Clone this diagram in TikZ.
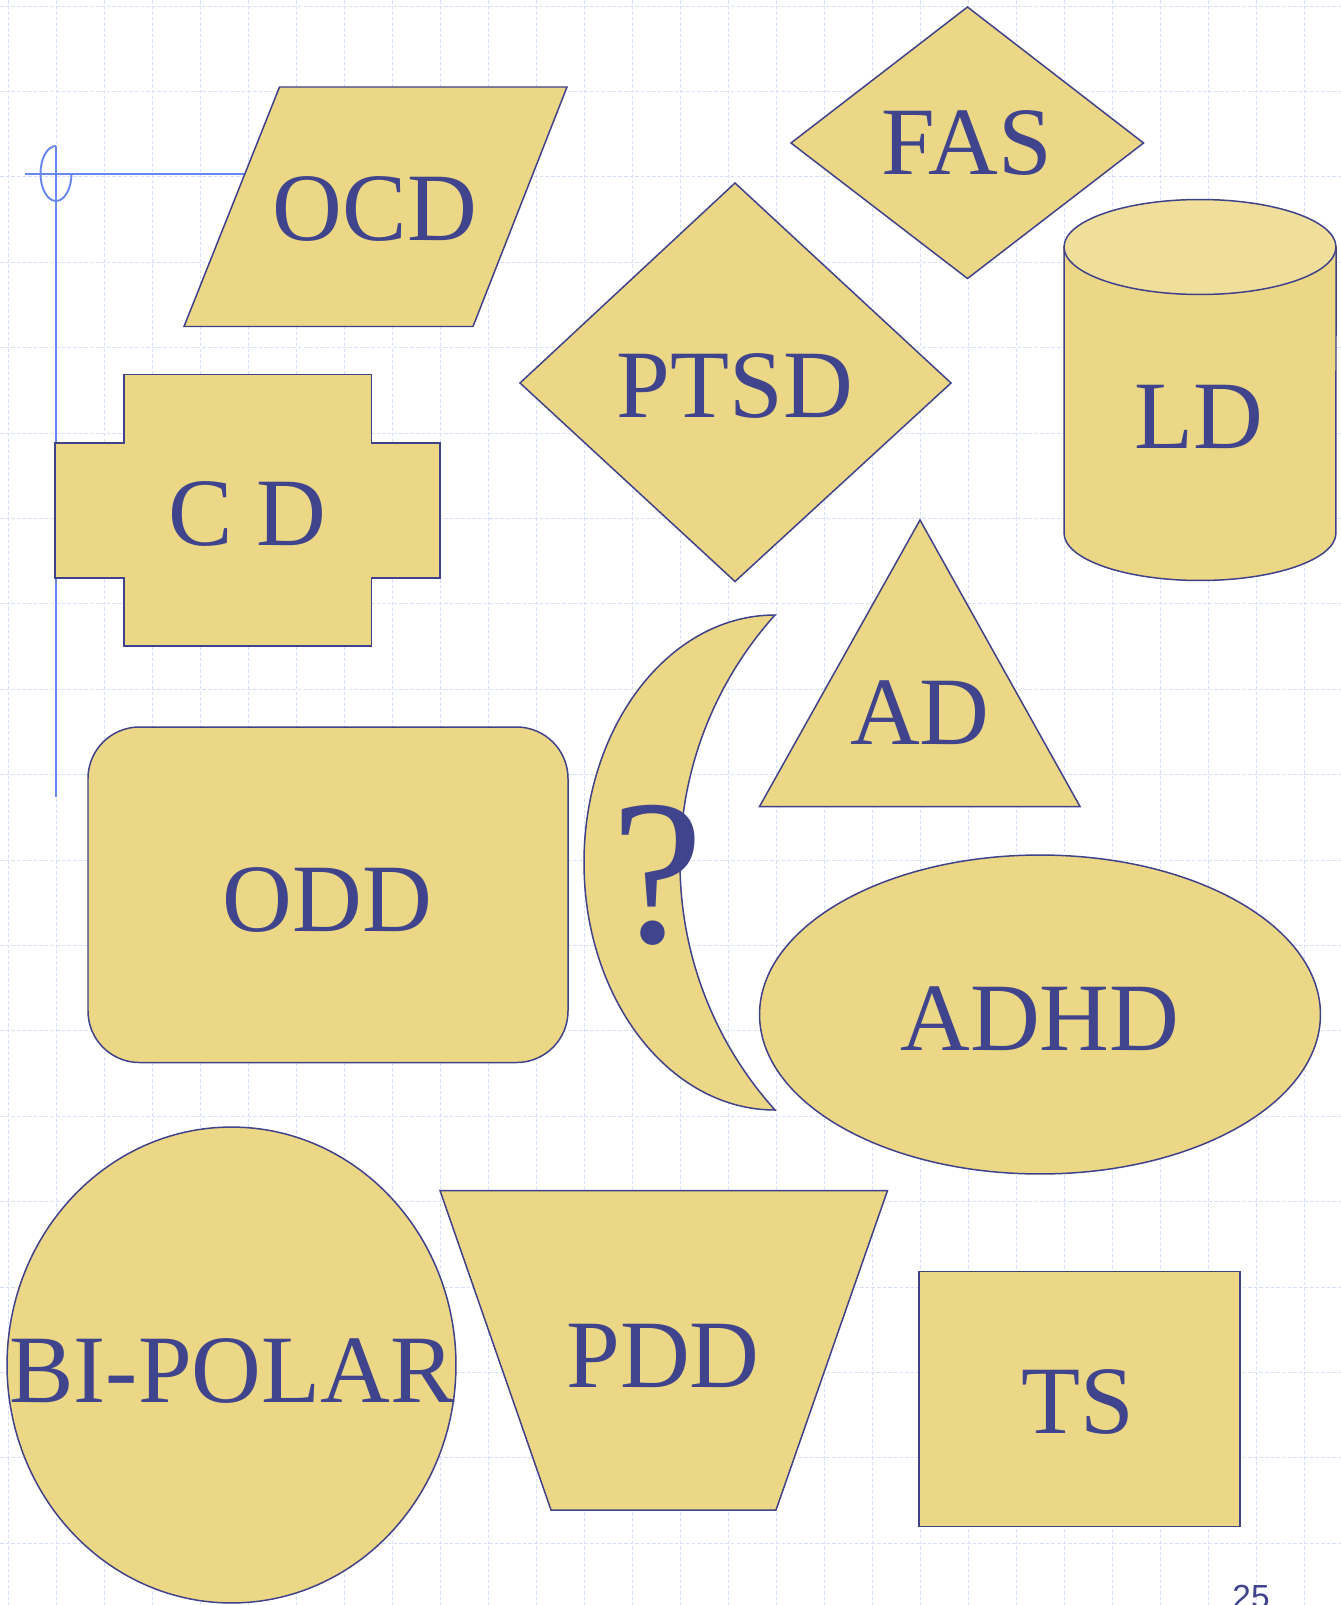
\documentclass[tikz,border=0pt]{standalone}
\usepackage{fontspec}
\setmainfont{Liberation Serif}
\newfontfamily\pagenumfont{Liberation Sans}
\usepackage{xcolor}
\usepackage{tikz}
\usetikzlibrary{calc}

\definecolor{shapeFill}{RGB}{235,215,133}
\definecolor{shapeTop}{RGB}{240,223,155}
\definecolor{shapeLine}{RGB}{64,66,138}
\definecolor{labelBlue}{RGB}{64,68,140}
\definecolor{gridBlue}{RGB}{214,224,250}
\definecolor{markBlue}{RGB}{105,135,240}

\tikzstyle{tsShape} = [
    fill=shapeFill,
    draw=shapeLine,
    line width=0.85pt
]
\tikzstyle{tsLabel} = [
    text=labelBlue,
    font=\fontsize{55}{62}\selectfont,
    anchor=base,
    inner sep=0pt
]
\tikzstyle{tsGrid} = [
    draw=gridBlue,
    line width=0.55pt,
    dash pattern=on 2pt off 1.2pt
]
\tikzstyle{tsMark} = [
    draw=markBlue,
    line width=1.1pt
]

\begin{document}
\begin{tikzpicture}[x=0.02cm, y=-0.02cm]

        \useasboundingbox (0,0) rectangle (1341,1605);
        \fill[white] (0,0) rectangle (1341,1605);

        % grid
        \foreach \gx in {0,...,27}
            \draw[tsGrid] (8+48*\gx,0) -- (8+48*\gx,1605);
        \foreach \gy in {0,...,18}
            \draw[tsGrid] (0,6+85.4*\gy) -- (1341,6+85.4*\gy);

        % blue mark
        \draw[tsMark] (25,174) -- (260,174);
        \draw[tsMark] (56,146) -- (56,797);
        \draw[tsMark] (56,146) arc[start angle=90, end angle=360, x radius=0.31cm, y radius=0.55cm];

        % shapes
        \draw[tsShape] (279.5,87) -- (567,87) -- (473,326.5) -- (184,326.5) -- cycle;
        \draw[tsShape] (967.5,7) -- (1143.5,143) -- (967.5,278.5) -- (791,143) -- cycle;
        \draw[tsShape] (735,183) -- (951,383) -- (735,581.5) -- (520,383) -- cycle;

        \draw[tsShape] (1064,247) -- (1064,533)
            arc[start angle=180, end angle=360, x radius=2.72cm, y radius=0.95cm]
            -- (1336,247) -- cycle;
        \draw[tsShape, fill=shapeTop] (1200,247) ellipse[x radius=2.72cm, y radius=0.95cm];

        \draw[tsShape] (124,374.5) -- (371.5,374.5) -- (371.5,443) -- (440,443)
            -- (440,578) -- (371.5,578) -- (371.5,646) -- (124,646)
            -- (124,578) -- (55,578) -- (55,443) -- (124,443) -- cycle;

        \draw[tsShape] (920,520) -- (1080,806.5) -- (759.5,806.5) -- cycle;
        \draw[tsShape, rounded corners=1.03cm] (88,727) rectangle (568,1062.5);

        \draw[tsShape] (775,615) .. controls (669.5,615) and (584,725.8) .. (584,862.5)
            .. controls (584,999.2) and (669.5,1110) .. (775,1110)
            .. controls (713.9,1042.1) and (680,954) .. (680,862.5)
            .. controls (680,771) and (713.9,682.9) .. (775,615) -- cycle;

        \draw[tsShape] (1040,1014.5) ellipse[x radius=5.61cm, y radius=3.19cm];
        \draw[tsShape] (231.5,1365) ellipse[x radius=4.49cm, y radius=4.76cm];
        \draw[tsShape] (440,1190.5) -- (887.5,1190.5) -- (776,1510) -- (551,1510) -- cycle;
        \draw[tsShape] (919,1271.5) rectangle (1240,1526.5);

        % labels
        \node[tsLabel] (ocd) at (375,240) {OCD};
        \node[tsLabel] (fas) at (967,175) {FAS};
        \node[tsLabel] (ptsd) at (735,417.5) {PTSD};
        \node[tsLabel] (ld) at (1199,448) {LD};
        \node[tsLabel] (cd) at (247.5,545) {C D};
        \node[tsLabel] (ad) at (920,744) {AD};
        \node[tsLabel] (odd) at (327.5,931.5) {ODD};
        \node[tsLabel, font=\fontsize{118}{120}\selectfont] (qmark) at (657,942) {?};
        \node[tsLabel] (adhd) at (1040,1050) {ADHD};
        \node[tsLabel] (bipolar) at (232,1402) {BI-POLAR};
        \node[tsLabel] (pdd) at (663,1387) {PDD};
        \node[tsLabel] (ts) at (1077.5,1433) {TS};
        \node[tsLabel, font=\pagenumfont\fontsize{19}{22}\selectfont] (pagenum) at (1251,1608) {25};

\end{tikzpicture}
\end{document}
